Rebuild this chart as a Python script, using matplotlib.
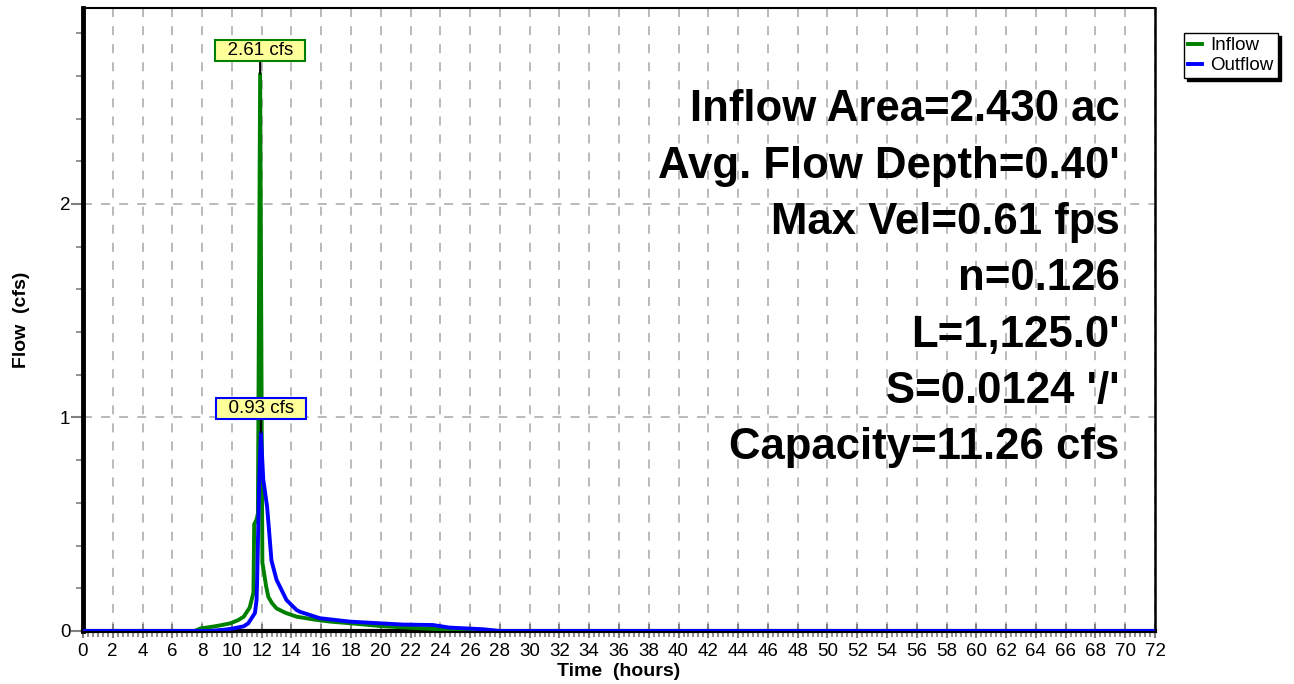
import matplotlib
matplotlib.use("Agg")
import matplotlib.pyplot as plt
from matplotlib.ticker import MultipleLocator

plt.rcParams['font.family'] = ['Liberation Sans', 'DejaVu Sans']

# hydrograph values (hours, cfs)
inflow_t = [0, 7.5, 7.9, 8.5, 9.2, 9.9, 10.4, 10.8, 11.2, 11.45, 11.5, 11.65, 11.75,
            11.9, 12.05, 12.1, 12.3, 12.45, 12.7, 13.0, 13.6, 14.35, 15.5, 16.6,
            18.0, 20.0, 22.0, 24.0, 25.0, 72]
inflow_q = [0, 0, 0.012, 0.018, 0.026, 0.036, 0.05, 0.067, 0.11, 0.18, 0.50, 0.52, 0.55,
            2.61, 0.32, 0.30, 0.21, 0.16, 0.13, 0.106, 0.085, 0.067, 0.054, 0.044,
            0.036, 0.023, 0.015, 0.008, 0, 0]

outflow_t = [0, 8.5, 9.5, 10.1, 10.8, 11.1, 11.55, 11.66, 11.7, 11.84, 11.95, 12.11,
             12.25, 12.37, 12.5, 12.66, 13.0, 13.67, 14.35, 14.57, 15.9, 17.9, 19.95,
             21.5, 23.5, 24.6, 26.9, 28.0, 72]
outflow_q = [0, 0, 0.006, 0.012, 0.022, 0.036, 0.084, 0.145, 0.24, 0.71, 0.93, 0.71,
             0.64, 0.58, 0.47, 0.33, 0.24, 0.145, 0.098, 0.09, 0.06, 0.044, 0.036,
             0.03, 0.028, 0.016, 0.008, 0, 0]

peak_in = (11.9, 2.61)
peak_out = (11.95, 0.93)

info_lines = ["Inflow Area=2.430 ac", "Avg. Flow Depth=0.40'", "Max Vel=0.61 fps",
              "n=0.126", "L=1,125.0'", "S=0.0124 '/'", "Capacity=11.26 cfs"]

fig = plt.figure(figsize=(12.94, 6.84), dpi=100)
ax = fig.add_axes([0.0641, 0.0775, 0.8285, 0.9108])

ax.plot(inflow_t, inflow_q, color='#008000', lw=2.8, label='Inflow', zorder=3)
ax.plot(outflow_t, outflow_q, color='#0000ff', lw=2.8, label='Outflow', zorder=4)

ax.set_xlim(0, 72)
ax.set_ylim(0, 2.918)
ax.xaxis.set_major_locator(MultipleLocator(2))
ax.xaxis.set_minor_locator(MultipleLocator(1 / 3))
ax.yaxis.set_major_locator(MultipleLocator(1))
ax.yaxis.set_minor_locator(MultipleLocator(0.2))
ax.tick_params(axis='x', which='major', direction='inout', length=10, width=1.5,
               color='#808080', labelsize=13.5, pad=3.5)
ax.tick_params(axis='x', which='minor', direction='out', length=4, width=1.2, color='#808080')
ax.tick_params(axis='y', which='major', direction='out', length=9, width=1.5,
               color='#808080', labelsize=13.5, pad=0)
ax.tick_params(axis='y', which='minor', direction='out', length=5, width=1.2, color='#808080')

ax.grid(True, which='major', color='#b4b4b4', linestyle=(0, (5, 5)), lw=1.3)
ax.set_axisbelow(True)

for side, w in [('left', 3.5), ('bottom', 3.0), ('top', 1.5), ('right', 1.8)]:
    ax.spines[side].set_linewidth(w)
    ax.spines[side].set_color('black')

ax.set_xlabel('Time  (hours)', fontsize=14, fontweight='bold')
ax.set_ylabel('Flow  (cfs)', fontsize=14, fontweight='bold')
ax.xaxis.set_label_coords(0.5, -0.052)
ax.yaxis.set_label_coords(-0.049, 0.5)

box_kw = dict(boxstyle='square,pad=0.1', fc='#ffff99', lw=1.5)
arrow_kw = dict(arrowstyle='-', color='black', lw=1.5, shrinkA=0, shrinkB=0)
ax.annotate('  2.61 cfs  ', xy=peak_in, xytext=(0, 16.5), textcoords='offset points',
            ha='center', va='center', fontsize=13.5,
            bbox=dict(ec='#008000', **box_kw), arrowprops=arrow_kw, zorder=6)
ax.annotate('  0.93 cfs  ', xy=peak_out, xytext=(0, 17), textcoords='offset points',
            ha='center', va='center', fontsize=13.5,
            bbox=dict(ec='#0000ff', **box_kw), arrowprops=arrow_kw, zorder=6)

for i, line in enumerate(info_lines):
    ax.text(0.967, 0.8363 - i * 0.0904, line, transform=ax.transAxes, ha='right',
            va='center', fontsize=31.5, fontweight='bold')

leg = ax.legend(loc='upper left', bbox_to_anchor=(1.027, 0.96), fontsize=13.5,
                frameon=True, fancybox=False, shadow={'color': 'black', 'alpha': 1},
                edgecolor='black', handlelength=0.75, handletextpad=0.45,
                borderpad=0.22, labelspacing=0.15, borderaxespad=0)
leg.get_frame().set_linewidth(1.0)

fig.savefig('out.png', dpi=100)
